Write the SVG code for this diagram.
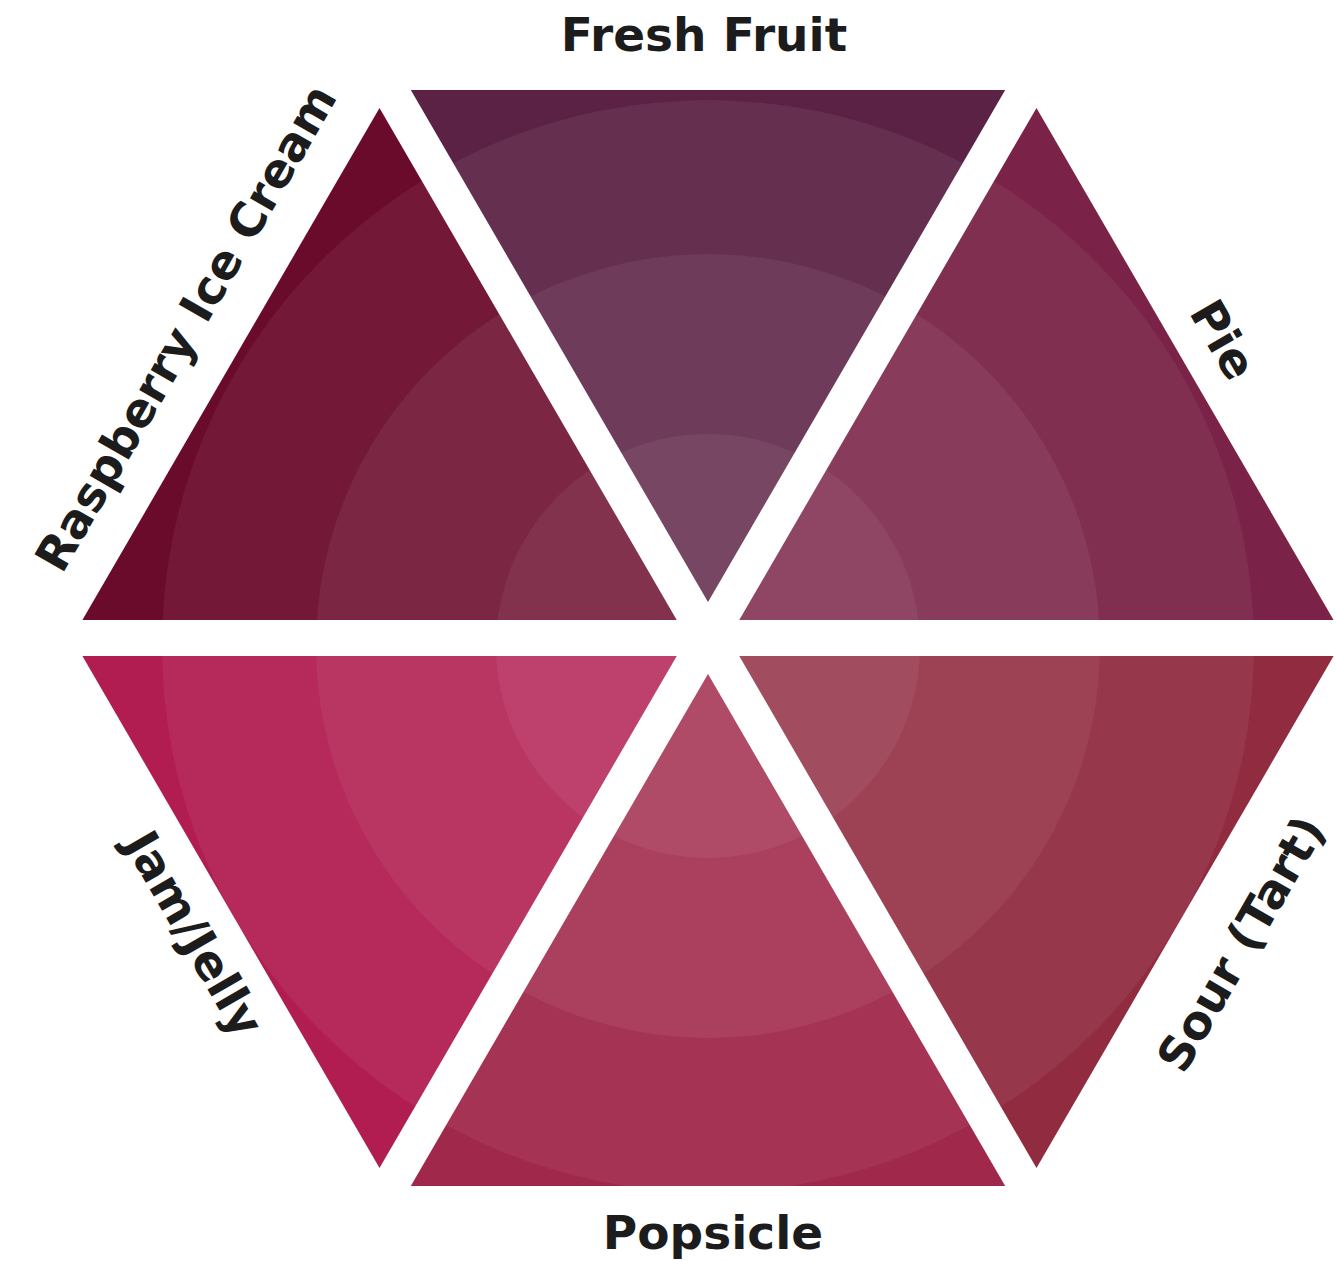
<svg xmlns="http://www.w3.org/2000/svg" width="1336" height="1261" viewBox="0 0 1336 1261">
  <style>
    .lbl { font-family: "DejaVu Sans", "Liberation Sans", sans-serif; font-weight: bold; font-size: 47px; fill: #1c1c1c; text-anchor: middle; }
    .ring { fill: #ffffff; fill-opacity: 0.06; }
  </style>
  <defs>
    <clipPath id="tris">
      <polygon points="410.8,90 1005.2,90 708,602"/>
      <polygon points="410.8,1186 1005.2,1186 708,674"/>
      <polygon points="1036.5,108 739.3,620 1333.6,620"/>
      <polygon points="379.5,108 676.7,620 82.4,620"/>
      <polygon points="1036.5,1168 739.3,656 1333.6,656"/>
      <polygon points="379.5,1168 676.7,656 82.4,656"/>
    </clipPath>
  </defs>
  <rect x="0" y="0" width="1336" height="1261" fill="#ffffff"/>

  <g id="fresh-fruit">
    <polygon points="410.8,90 1005.2,90 708,602" fill="#5c2246"/>
    <text class="lbl" x="704" y="51">Fresh Fruit</text>
  </g>
  <g id="pie">
    <polygon points="1036.5,108 739.3,620 1333.6,620" fill="#7a2247"/>
    <text class="lbl" transform="translate(1209,348) rotate(60)" x="0" y="0">Pie</text>
  </g>
  <g id="sour-tart">
    <polygon points="1036.5,1168 739.3,656 1333.6,656" fill="#912b40"/>
    <text class="lbl" transform="translate(1255,952) rotate(-60)" x="0" y="0" font-size="46">Sour (Tart)</text>
  </g>
  <g id="popsicle">
    <polygon points="410.8,1186 1005.2,1186 708,674" fill="#a0284a"/>
    <text class="lbl" x="713" y="1249">Popsicle</text>
  </g>
  <g id="jam-jelly">
    <polygon points="379.5,1168 676.7,656 82.4,656" fill="#b11d50"/>
    <text class="lbl" transform="translate(180,942) rotate(60)" x="0" y="0">Jam/Jelly</text>
  </g>
  <g id="raspberry-ice-cream">
    <polygon points="379.5,108 676.7,620 82.4,620" fill="#6b0b2b"/>
    <text class="lbl" transform="translate(200,336) rotate(-60)" x="0" y="0">Raspberry Ice Cream</text>
  </g>

  <g id="glow" clip-path="url(#tris)">
    <circle class="ring" cx="708" cy="646" r="546"/>
    <circle class="ring" cx="708" cy="646" r="392"/>
    <circle class="ring" cx="708" cy="646" r="212"/>
  </g>
</svg>
